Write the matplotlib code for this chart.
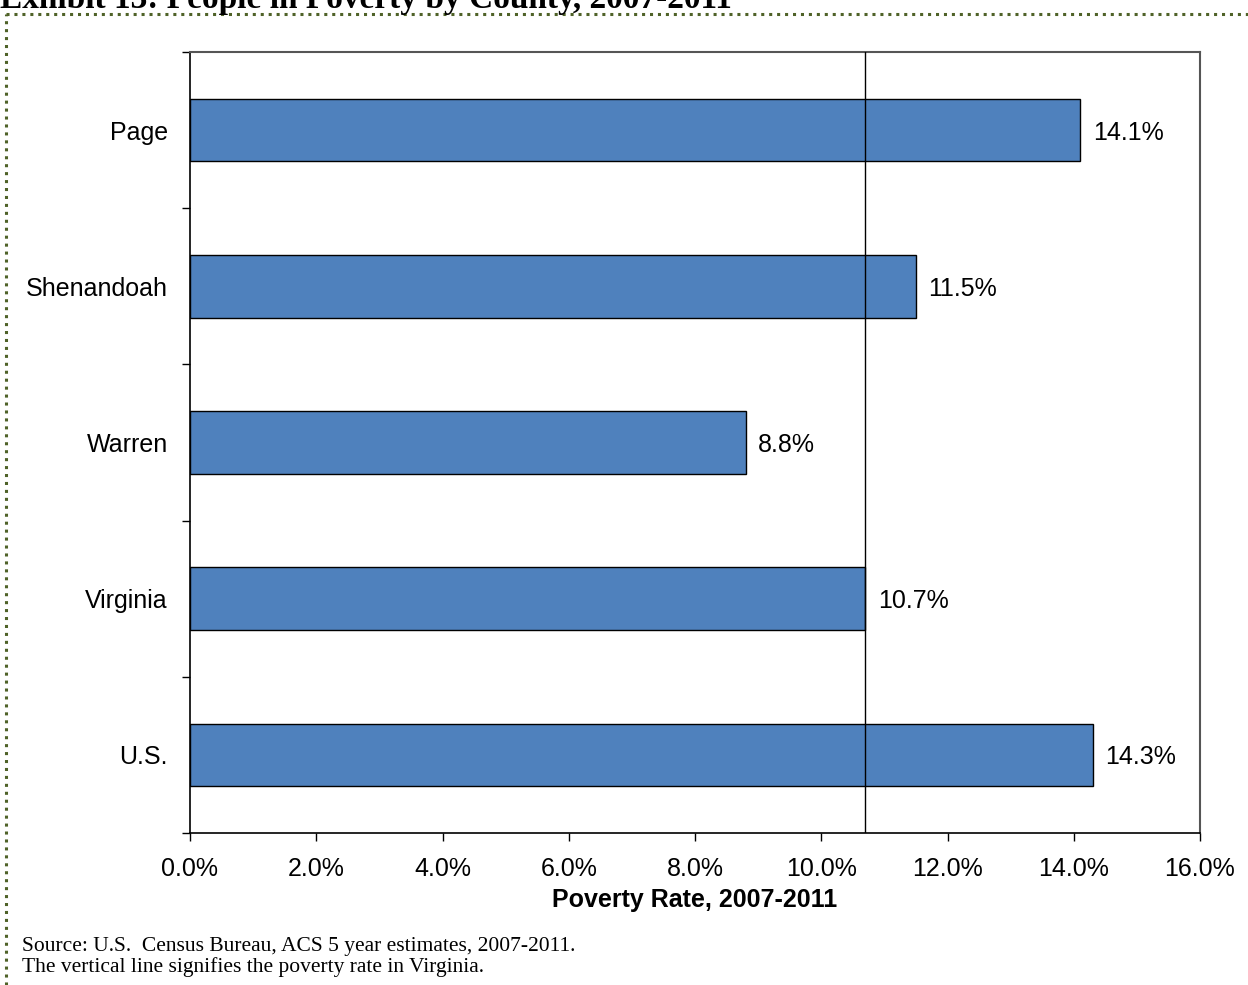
import matplotlib
matplotlib.use("Agg")
import matplotlib.pyplot as plt
from matplotlib.lines import Line2D
import numpy as np

categories = ["Page", "Shenandoah", "Warren", "Virginia", "U.S."]
rates = [14.1, 11.5, 8.8, 10.7, 14.3]
virginia_rate = 10.7
x_ticks = [0, 2, 4, 6, 8, 10, 12, 14, 16]

plt.rcParams["font.family"] = ["Liberation Sans", "DejaVu Sans"]

fig = plt.figure(figsize=(12.48, 9.85), dpi=100)
ax = fig.add_axes([190 / 1248, 1 - 833 / 985, 1010 / 1248, 781 / 985])

n = len(categories)
ypos = np.arange(n)
ax.barh(ypos, rates, height=0.40, color="#4F81BD", edgecolor="black",
        linewidth=1.0, zorder=2)

ax.axvline(virginia_rate, color="black", linewidth=1.0, zorder=3)

for y, v in zip(ypos, rates):
    ax.text(v + 0.2, y, f"{v:.1f}%", va="center_baseline", ha="left",
            fontsize=18)

ax.set_xlim(0, 16)
ax.set_ylim(n - 0.5, -0.5)
ax.set_xticks(x_ticks)
ax.set_xticklabels([f"{t:.1f}%" for t in x_ticks], fontsize=18)

# boundary ticks between categories, labels at category centers
ax.set_yticks(np.arange(-0.5, n, 1.0))
ax.set_yticklabels([])
ax.set_yticks(ypos, minor=True)
ax.set_yticklabels(categories, minor=True, fontsize=18)
ax.tick_params(axis="y", which="major", direction="out", length=6, width=1)
ax.tick_params(axis="y", which="minor", length=0, pad=16)
ax.tick_params(axis="x", direction="out", length=6, width=1, pad=11)

ax.set_xlabel("Poverty Rate, 2007-2011", fontsize=18, fontweight="bold",
              labelpad=5)

for s in ("left", "bottom"):
    ax.spines[s].set_color("black")
    ax.spines[s].set_linewidth(1.2)
for s in ("top", "right"):
    ax.spines[s].set_color("#555555")
    ax.spines[s].set_linewidth(1.5)

# title (partly cut at page top)
fig.text(0.0, 1 - 8 / 985, "Exhibit 13: People in Poverty by County, 2007-2011",
         ha="left", va="baseline", fontsize=24, fontweight="bold",
         family=["Liberation Serif", "DejaVu Serif"])

# dotted frame
border_color = "#4F6228"
dots = (0, (1, 1.6))
fig.add_artist(Line2D([5.5 / 1248, 1.0], [1 - 13.5 / 985, 1 - 13.5 / 985],
                      transform=fig.transFigure, color=border_color,
                      linewidth=2.2, linestyle=dots, solid_capstyle="butt",
                      dash_capstyle="butt"))
fig.add_artist(Line2D([5.5 / 1248, 5.5 / 1248], [0.0, 1 - 13.5 / 985],
                      transform=fig.transFigure, color=border_color,
                      linewidth=2.2, linestyle=dots, dash_capstyle="butt"))

notes = ["Source: U.S.  Census Bureau, ACS 5 year estimates, 2007-2011.",
         "The vertical line signifies the poverty rate in Virginia."]
for i, line in enumerate(notes):
    fig.text(22 / 1248, 1 - (951 + 21 * i) / 985, line, ha="left",
             va="baseline", fontsize=15.5,
             family=["Liberation Serif", "DejaVu Serif"])

fig.savefig("out.png", dpi=100)
